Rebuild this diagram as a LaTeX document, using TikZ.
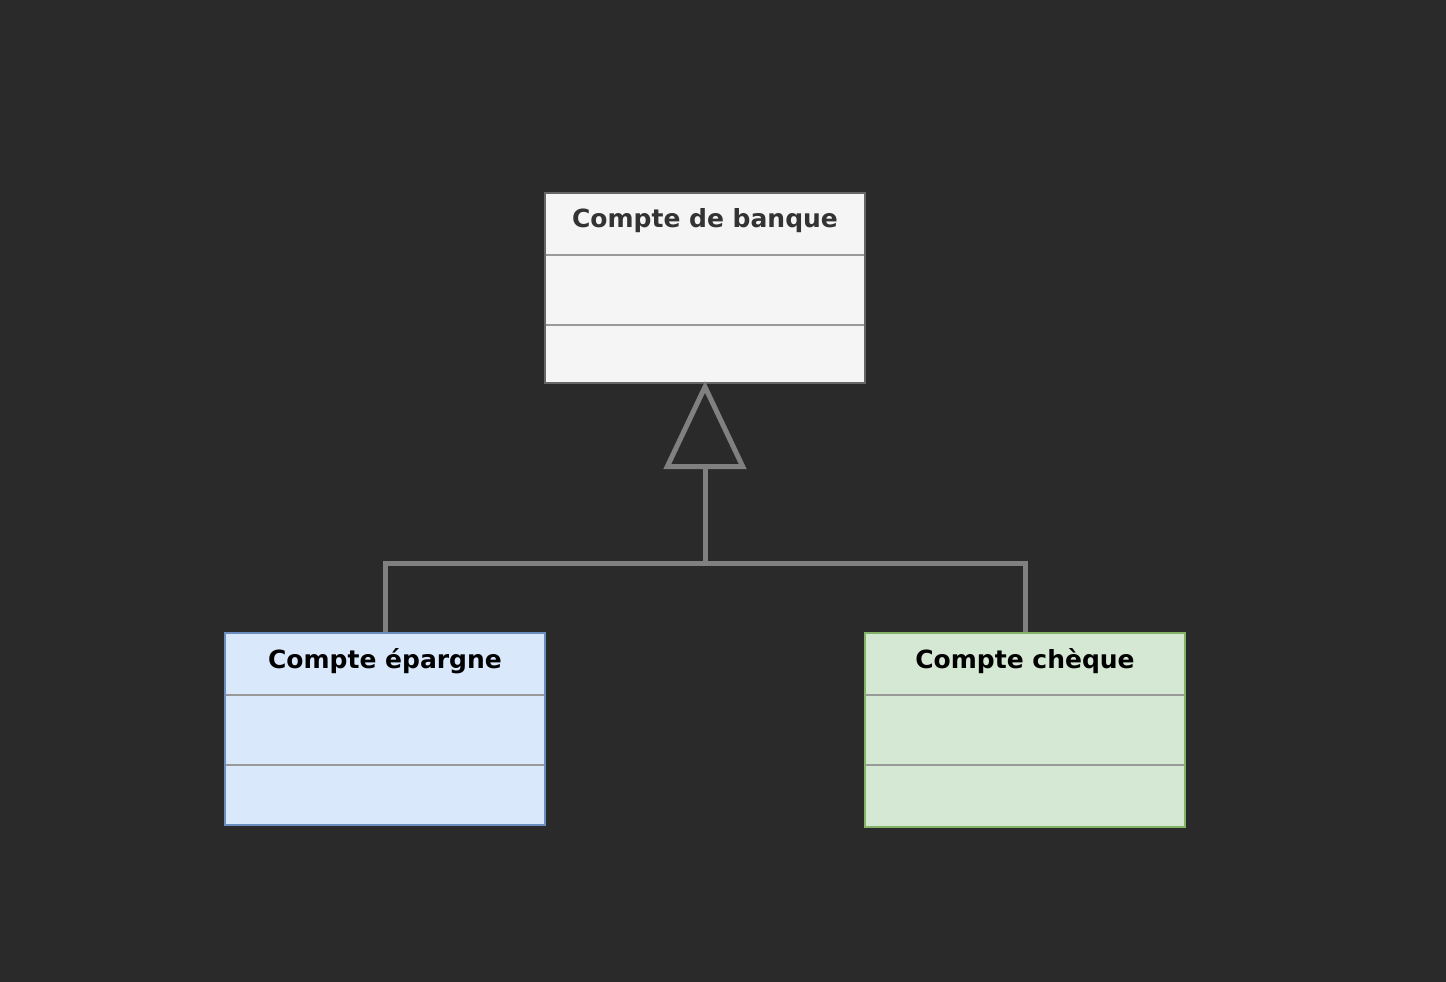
\documentclass[tikz,border=0pt]{standalone}
\usepackage{fontspec}
\setmainfont{DejaVu Sans}
\usetikzlibrary{arrows.meta}
\definecolor{bg}{HTML}{2A2A2A}
\definecolor{topfill}{HTML}{F5F5F5}
\definecolor{topdraw}{HTML}{666666}
\definecolor{toptext}{HTML}{333333}
\definecolor{bluefill}{HTML}{DAE8FC}
\definecolor{bluedraw}{HTML}{6C8EBF}
\definecolor{greenfill}{HTML}{D5E8D4}
\definecolor{greendraw}{HTML}{82B366}
\definecolor{divider}{HTML}{999999}
\definecolor{conn}{HTML}{808080}
\tikzset{
  classbox/.style={rectangle, draw, line width=2pt, minimum width=320pt, minimum height=190pt, inner sep=0pt},
  classtitle/.style={font=\bfseries\fontsize{25}{28}\selectfont, inner sep=0pt, anchor=center},
  divline/.style={draw=divider, line width=1.6pt},
  connector/.style={draw=conn, line width=5pt},
}
\begin{document}
\begin{tikzpicture}[x=1pt,y=-1pt]
\fill[bg] (0,0) rectangle (1446,982);
\useasboundingbox (0,0) rectangle (1446,982);
% boxes
\node[classbox, draw=topdraw, fill=topfill] (top) at (705,288) {};
\node[classbox, draw=bluedraw, fill=bluefill, minimum height=192pt] (left) at (385,729) {};
\node[classbox, draw=greendraw, fill=greenfill, minimum height=194pt] (right) at (1025,730) {};
% dividers
\draw[divline] (546,255) -- (864,255);
\draw[divline] (546,325) -- (864,325);
\draw[divline] (226,695) -- (544,695);
\draw[divline] (226,765) -- (544,765);
\draw[divline] (866,695) -- (1184,695);
\draw[divline] (866,765) -- (1184,765);
% titles
\node[classtitle, text=toptext] (ttop) at (705,221) {Compte de banque};
\node[classtitle, text=black] (tleft) at (385,661) {Compte épargne};
\node[classtitle, text=black] (tright) at (1025,661) {Compte chèque};
% connectors
\coordinate (junction) at (705,563);
\draw[connector] (left.north) |- (junction);
\draw[connector] (right.north) |- (junction);
\draw[connector, -{Triangle[open, length=88pt, width=82pt]}] (junction) -- ([yshift=3pt]top.south);
\end{tikzpicture}
\end{document}
